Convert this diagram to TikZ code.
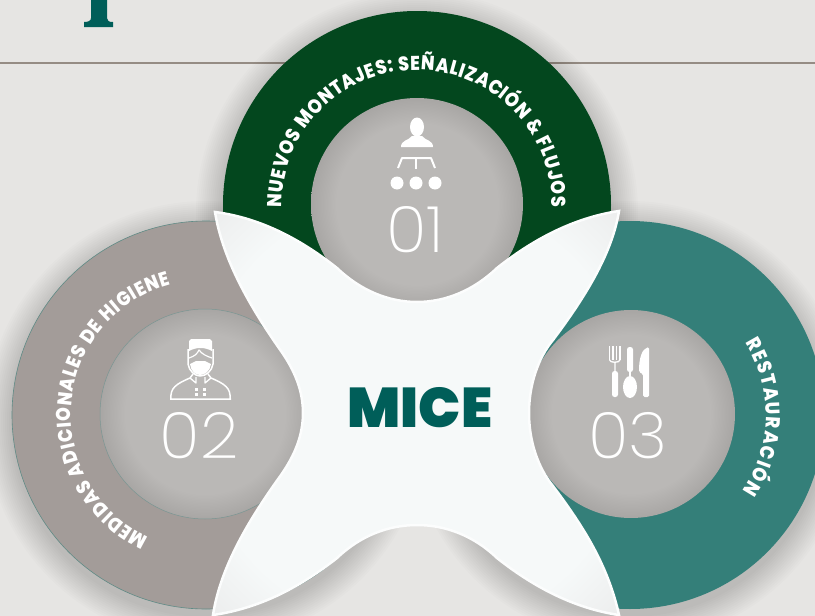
\documentclass[tikz,border=0pt]{standalone}
\usepackage{fontspec}
\usetikzlibrary{decorations.text}
\newfontfamily\ringfont{Poppins}[UprightFont=* ExtraBold, FakeStretch=0.88]
\newfontfamily\micefont{Poppins}[UprightFont=* Black]
\newfontfamily\numfont{Poppins}[UprightFont=* ExtraLight, FakeStretch=1.05]
\definecolor{bgpaper}{HTML}{E6E5E3}
\definecolor{rulegray}{HTML}{958C84}
\definecolor{ringgreen}{HTML}{03471E}
\definecolor{ringgray}{HTML}{A39C99}
\definecolor{ringteal}{HTML}{347F79}
\definecolor{micegreen}{HTML}{005E59}
\definecolor{discmid}{HTML}{BAB8B6}
\definecolor{discedge}{HTML}{A8A6A4}
\definecolor{crossmid}{HTML}{F6F9F9}
\definecolor{crosstip}{HTML}{ECEDED}
\pgfdeclareradialshading{discshade}{\pgfpoint{0bp}{0bp}}{color(0bp)=(discmid); color(19bp)=(discmid); color(25bp)=(discedge); color(50bp)=(discedge)}
\pgfdeclareradialshading{crossshade}{\pgfpoint{0bp}{0bp}}{color(0bp)=(crossmid); color(27bp)=(crossmid); color(35.5bp)=(crosstip); color(50bp)=(crosstip)}
\tikzset{
    disc/.style={shading=discshade},
    numlabel/.style={text=white, font=\numfont\fontsize{64}{64}\selectfont, inner sep=0pt},
    iconfill/.style={fill=white, draw=none},
    iconline/.style={draw=white, line width=2pt, line join=round},
    ringtext/.style={decorate, decoration={text along path, text align={fit to path}, text={|\ringfont\fontsize{20}{20}\selectfont\color{white}|#1}}}
}
\begin{document}
\begin{tikzpicture}[x=1pt, y=-1pt]
    \useasboundingbox (0,0) rectangle (815,616);
    \clip (0,0) rectangle (815,616);
    \fill[bgpaper] (0,0) rectangle (815,616);

    % Title foot and rule
    \fill[micegreen] (91,0) -- (107,0) -- (107,18) .. controls (107,21) and (109,22) .. (113,22) -- (113,27) -- (84,27) -- (84,22) .. controls (88,22) and (91,21) .. (91,18) -- cycle;
    \draw[rulegray, line width=1.8pt] (0,63) -- (815,63);

    % Centres of the rings
    \coordinate (greenc) at (417,205);
    \coordinate (grayc) at (206,415);
    \coordinate (tealc) at (630,415);

    % Soft shadows
    \foreach \c in {greenc,grayc,tealc}
        \foreach \r in {1,3,...,27}
            \fill[black, opacity=0.011] ([yshift=-7pt]\c) circle[radius=194+\r];

    % Rings
    \fill[ringgreen] (greenc) circle[radius=194];
    \fill[ringgray] (grayc) circle[radius=194];
    \draw[ringteal!60!ringgray, line width=0.6pt] (grayc) circle[radius=194];
    \fill[ringteal] (tealc) circle[radius=194];

    % Inner discs
    \shade[disc] (417,204) circle[radius=106];
    \shade[disc] (205,414) circle[radius=105];
    \draw[ringteal!40!discedge, line width=0.5pt] (205,414) circle[radius=105];
    \shade[disc] (631,414) circle[radius=104];

    % Ring texts
    \begin{scope}[shift={(greenc)}, y=1pt]
        \path[ringtext={NUEVOS MONTAJES: SEÑALIZACIÓN {\&} FLUJOS}] (181:135) arc[start angle=181, end angle=-1, radius=135];
    \end{scope}
    \begin{scope}[shift={(grayc)}, y=1pt]
        \path[ringtext={MEDIDAS ADICIONALES DE HIGIENE}] (245:135) arc[start angle=245, end angle=105, radius=135];
    \end{scope}
    \begin{scope}[shift={(tealc)}, y=1pt]
        \path[ringtext={RESTAURACIÓN}] (32:136) arc[start angle=32, end angle=-34, radius=136];
    \end{scope}

    % Central cross
    \path[shading=crossshade, draw=white!70!crossmid, line width=2.5pt, line join=miter]
        (215,212) .. controls (262,218) and (303,241) .. (337,268)
        .. controls (360,290) and (388,302) .. (417,302)
        .. controls (446,302) and (474,290) .. (497,268)
        .. controls (531,241) and (572,218) .. (619,211)
        .. controls (612,255) and (583,300) .. (553,340)
        .. controls (538,358) and (529,385) .. (529,413)
        .. controls (529,441) and (538,468) .. (553,486)
        .. controls (583,526) and (608,565) .. (619,615)
        .. controls (572,608) and (531,585) .. (497,558)
        .. controls (474,536) and (446,525) .. (417,525)
        .. controls (388,525) and (360,536) .. (337,558)
        .. controls (303,585) and (262,608) .. (213,615)
        .. controls (220,570) and (245,525) .. (281,475)
        .. controls (295,455) and (303,435) .. (303,413)
        .. controls (303,391) and (295,371) .. (281,351)
        .. controls (245,300) and (222,255) .. (215,212) -- cycle;
    \node[text=micegreen, font=\micefont\fontsize{56}{56}\selectfont, inner sep=0pt] (micetitle) at (420,408) {MICE};

    % Numbers
    \node[numlabel] (numone) at (415,230) {01};
    \node[numlabel] (numtwo) at (199,436) {02};
    \node[numlabel] (numthree) at (628,436) {03};

    % Icon 01: speaker at a table
    \fill[iconfill] (417,127) ellipse[x radius=7, y radius=9.5];
    \fill[iconfill] (401,147) .. controls (401,140) and (408,141) .. (412,136) -- (422,136) .. controls (426,141) and (433,140) .. (433,147) -- cycle;
    \draw[iconline] (398,168) -- (402,158) -- (431,158) -- (435,168);
    \draw[iconline] (416,158) -- (416,169);
    \foreach \x in {397,416,435}
        \fill[iconfill] (\x,183) circle[radius=6.5];

    % Icon 02: person with cap and mask
    \fill[iconfill] (191,339) -- (210,339) -- (212,341) -- (212,351) .. controls (205,347) and (196,347) .. (189,351) -- (189,341) -- cycle;
    \draw[iconline, line width=1.5pt] (188,349) -- (188,364) .. controls (189,371) and (195,376) .. (200,376) .. controls (206,376) and (212,371) .. (213,364) -- (213,349);
    \draw[iconline, line width=1.2pt] (189,358) .. controls (195,356) and (197,354) .. (199,350) .. controls (202,354) and (206,356) .. (212,358);
    \fill[iconfill] (190,364) -- (196,361) -- (205,361) -- (211,364) .. controls (210,371) and (205,375) .. (200,375) .. controls (195,375) and (191,371) .. (190,364) -- cycle;
    \draw[iconline, line width=1.5pt] (170,399) -- (231,399) (171,399) .. controls (170,388) and (176,384) .. (190,378) -- (193,374) (230,399) .. controls (231,388) and (225,384) .. (211,378) -- (208,374);
    \draw[iconline, line width=1.3pt] (190,378) -- (196,383) -- (196,377) (211,378) -- (205,383) -- (205,377);
    \foreach \x in {196,204}
        \foreach \y in {389,394}
            \fill[iconfill] (\x-1.5,\y-1.5) rectangle (\x+1.5,\y+1.5);

    % Icon 03: fork, spoon and knife
    \foreach \x in {609.5,613,616.5,620}
        \draw[iconline, line width=1.1pt] (\x,346) -- (\x,360);
    \draw[iconline, line width=1.3pt] (609.5,360) .. controls (609.5,363) and (620,363) .. (620,360) (615,362) -- (615,373);
    \fill[iconfill, rounded corners=2.5pt] (612,371) rectangle (618,397);
    \fill[iconfill, rounded corners=2.5pt] (627,347) rectangle (633,372);
    \draw[iconline, line width=1.2pt] (630,370) -- (630,378);
    \fill[iconfill] (630,387) ellipse[x radius=7, y radius=11];
    \fill[iconfill, rounded corners=1.5pt] (649,347) .. controls (642,349) and (639,358) .. (639,372) -- (643,374) -- (643,397) -- (649,397) -- cycle;
\end{tikzpicture}
\end{document}
